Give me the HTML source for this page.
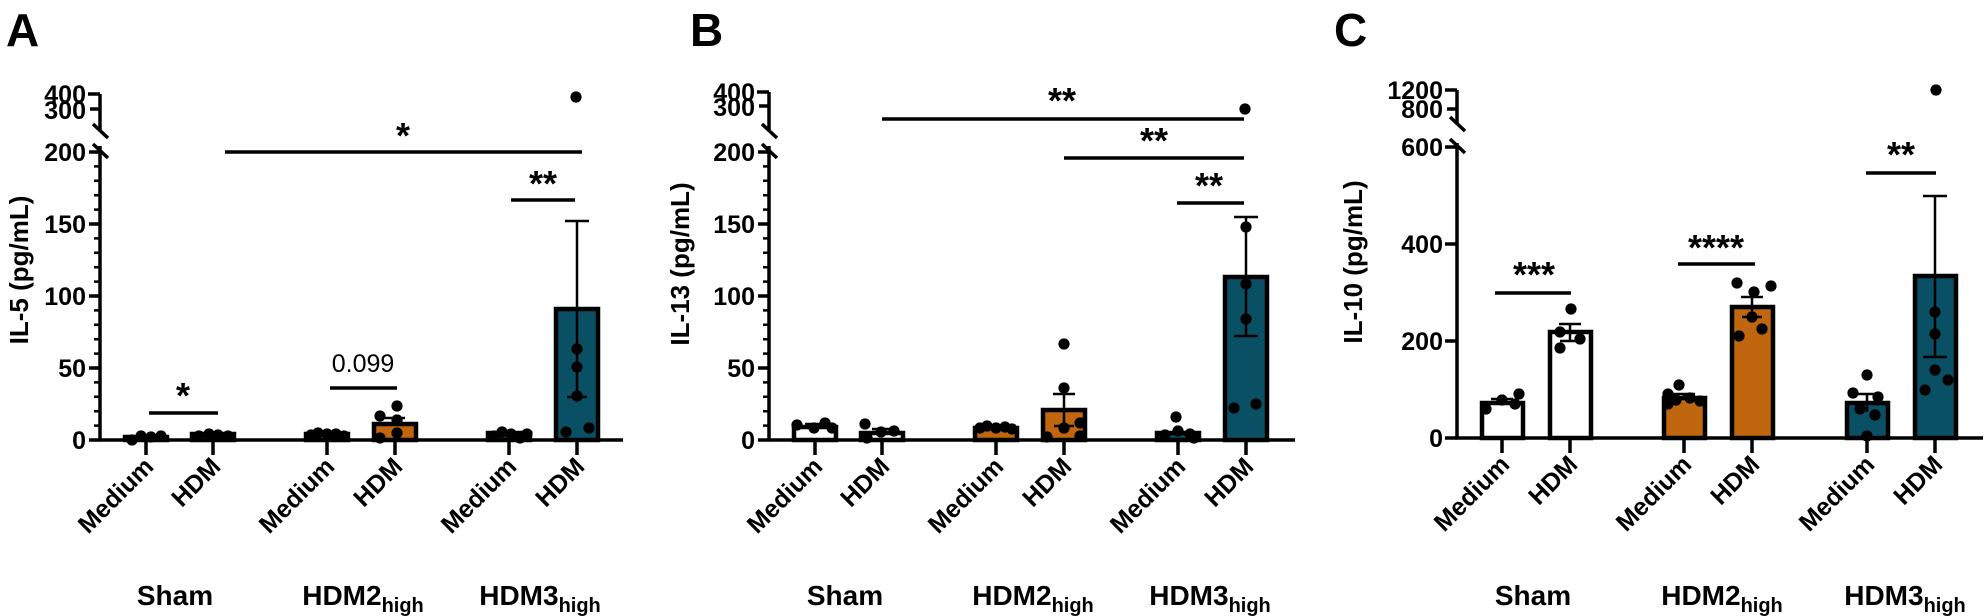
<!DOCTYPE html>
<html><head><meta charset="utf-8"><style>
html,body{margin:0;padding:0;background:#fff;}
svg{display:block;}
text{font-family:"Liberation Sans",Arial,sans-serif;font-weight:bold;fill:#000;}
</style></head><body>
<svg width="1985" height="616" viewBox="0 0 1985 616" xmlns="http://www.w3.org/2000/svg">

<!-- ============ PANEL A ============ -->
<text x="6" y="46" font-size="46">A</text>
<g stroke="#000" stroke-width="3.5" fill="none">
  <path d="M100,94 V131 M100,146 V440 H623"/>
  <path d="M88,94 H100 M90,109 H100"/>
  <path d="M93,124 L108,138 M93,144 L108,158"/>
  <path d="M89,152 H100 M89,224 H100 M89,296 H100 M89,368 H100 M89,440 H100"/>
  <path stroke-width="2.5" d="M94,166.4H100M94,180.8H100M94,195.2H100M94,209.6H100M94,238.4H100M94,252.8H100M94,267.2H100M94,281.6H100M94,310.4H100M94,324.8H100M94,339.2H100M94,353.6H100M94,382.4H100M94,396.8H100M94,411.2H100M94,425.6H100"/>
  <path d="M146,440V455 M213,440V455 M327,440V455 M395,440V455 M509,440V455 M577,440V455"/>
</g>
<g font-size="25" text-anchor="end">
  <text x="86" y="103">400</text><text x="86" y="119">300</text>
  <text x="86" y="161">200</text><text x="86" y="233">150</text><text x="86" y="305">100</text>
  <text x="86" y="377">50</text><text x="86" y="449">0</text>
</g>
<text transform="translate(28,270) rotate(-90)" font-size="26" text-anchor="middle">IL-5 (pg/mL)</text>
<g stroke="#000" stroke-width="4.5">
  <rect x="125" y="437" width="42" height="3" fill="#fff"/>
  <rect x="192" y="434" width="42" height="6" fill="#fff"/>
  <rect x="306" y="434" width="42" height="6" fill="#c0660f"/>
  <rect x="374" y="424" width="42" height="16" fill="#c0660f"/>
  <rect x="488" y="433" width="42" height="7" fill="#0a5065"/>
  <rect x="556" y="309" width="42" height="131" fill="#0a5065"/>
</g>
<g stroke="#000" stroke-width="2.5">
  <path d="M395,424V418 M385,418H405"/>
  <path d="M577,309V221 M565,221H589 M577,309V397 M567,397H587"/>
</g>
<g fill="#000">
  <circle cx="132" cy="440" r="5.6"/><circle cx="141" cy="436" r="5.6"/><circle cx="151" cy="437" r="5.6"/><circle cx="161" cy="436" r="5.6"/>
  <circle cx="199" cy="436" r="5.6"/><circle cx="209" cy="434" r="5.6"/><circle cx="218" cy="435" r="5.6"/><circle cx="228" cy="436" r="5.6"/>
  <circle cx="311" cy="435" r="5.6"/><circle cx="318" cy="433" r="5.6"/><circle cx="327" cy="434" r="5.6"/><circle cx="336" cy="434" r="5.6"/><circle cx="344" cy="436" r="5.6"/>
  <circle cx="380" cy="416" r="5.6"/><circle cx="397" cy="406" r="5.6"/><circle cx="397" cy="420" r="5.6"/><circle cx="397" cy="433" r="5.6"/><circle cx="380" cy="438" r="5.6"/>
  <circle cx="494" cy="436" r="5.6"/><circle cx="502" cy="432" r="5.6"/><circle cx="511" cy="434" r="5.6"/><circle cx="520" cy="438" r="5.6"/><circle cx="527" cy="434" r="5.6"/>
  <circle cx="577" cy="349" r="5.6"/><circle cx="577" cy="367" r="5.6"/><circle cx="577" cy="396" r="5.6"/><circle cx="589" cy="428" r="5.6"/><circle cx="566" cy="432" r="5.6"/>
  <circle cx="576" cy="97" r="5.6"/>
</g>
<g stroke="#000" stroke-width="3.5">
  <path d="M225,152H582 M511,200H575 M149,413H218 M330,388H397"/>
</g>
<g font-size="36" text-anchor="middle">
  <text x="403" y="148">*</text><text x="543" y="196">**</text><text x="183" y="408">*</text>
</g>
<text x="363" y="372" font-size="25" style="font-weight:normal" text-anchor="middle">0.099</text>
<g font-size="25" text-anchor="end">
  <text transform="translate(155,468) rotate(-45)">Medium</text>
  <text transform="translate(222,468) rotate(-45)">HDM</text>
  <text transform="translate(336,468) rotate(-45)">Medium</text>
  <text transform="translate(404,468) rotate(-45)">HDM</text>
  <text transform="translate(518,468) rotate(-45)">Medium</text>
  <text transform="translate(586,468) rotate(-45)">HDM</text>
</g>
<g font-size="28" text-anchor="middle">
  <text x="175" y="605">Sham</text>
  <text x="363" y="605">HDM2<tspan font-size="20" dy="7">high</tspan></text>
  <text x="540" y="605">HDM3<tspan font-size="20" dy="7">high</tspan></text>
</g>

<!-- ============ PANEL B ============ -->
<text x="690" y="46" font-size="46">B</text>
<g stroke="#000" stroke-width="3.5" fill="none">
  <path d="M769,92 V131 M769,146 V440 H1295"/>
  <path d="M757,92 H769 M759,106 H769"/>
  <path d="M762,124 L777,138 M762,144 L777,158"/>
  <path d="M758,152 H769 M758,224 H769 M758,296 H769 M758,368 H769 M758,440 H769"/>
  <path stroke-width="2.5" d="M763,166.4H769M763,180.8H769M763,195.2H769M763,209.6H769M763,238.4H769M763,252.8H769M763,267.2H769M763,281.6H769M763,310.4H769M763,324.8H769M763,339.2H769M763,353.6H769M763,382.4H769M763,396.8H769M763,411.2H769M763,425.6H769"/>
  <path d="M815,440V455 M882,440V455 M996,440V455 M1064,440V455 M1178,440V455 M1246,440V455"/>
</g>
<g font-size="25" text-anchor="end">
  <text x="755" y="101">400</text><text x="755" y="116">300</text>
  <text x="755" y="161">200</text><text x="755" y="233">150</text><text x="755" y="305">100</text>
  <text x="755" y="377">50</text><text x="755" y="449">0</text>
</g>
<text transform="translate(689,264) rotate(-90)" font-size="26" text-anchor="middle">IL-13 (pg/mL)</text>
<g stroke="#000" stroke-width="4.5">
  <rect x="794" y="427" width="42" height="13" fill="#fff"/>
  <rect x="861" y="433" width="42" height="7" fill="#fff"/>
  <rect x="975" y="428" width="42" height="12" fill="#c0660f"/>
  <rect x="1043" y="410" width="42" height="30" fill="#c0660f"/>
  <rect x="1157" y="433" width="42" height="7" fill="#0a5065"/>
  <rect x="1225" y="277" width="42" height="163" fill="#0a5065"/>
</g>
<g stroke="#000" stroke-width="2.5">
  <path d="M815,427V424 M805,424H825 M882,433V429 M872,429H892"/>
  <path d="M1064,410V394 M1053,394H1075 M1064,410V426 M1054,426H1074"/>
  <path d="M1246,277V217 M1234,217H1258 M1246,277V336 M1234,336H1258"/>
</g>
<g fill="#000">
  <circle cx="797" cy="425" r="5.6"/><circle cx="814" cy="428" r="5.6"/><circle cx="825" cy="423" r="5.6"/><circle cx="832" cy="428" r="5.6"/>
  <circle cx="865" cy="424" r="5.6"/><circle cx="867" cy="438" r="5.6"/><circle cx="881" cy="432" r="5.6"/><circle cx="894" cy="431" r="5.6"/>
  <circle cx="980" cy="428" r="5.6"/><circle cx="987" cy="426" r="5.6"/><circle cx="996" cy="428" r="5.6"/><circle cx="1005" cy="427" r="5.6"/><circle cx="1012" cy="429" r="5.6"/>
  <circle cx="1064" cy="344" r="5.6"/><circle cx="1064" cy="388" r="5.6"/><circle cx="1064" cy="428" r="5.6"/><circle cx="1080" cy="423" r="5.6"/><circle cx="1047" cy="437" r="5.6"/><circle cx="1080" cy="436" r="5.6"/>
  <circle cx="1176" cy="417" r="5.6"/><circle cx="1165" cy="435" r="5.6"/><circle cx="1178" cy="431" r="5.6"/><circle cx="1190" cy="434" r="5.6"/><circle cx="1194" cy="438" r="5.6"/>
  <circle cx="1246" cy="227" r="5.6"/><circle cx="1246" cy="284" r="5.6"/><circle cx="1246" cy="319" r="5.6"/><circle cx="1234" cy="408" r="5.6"/><circle cx="1256" cy="404" r="5.6"/>
  <circle cx="1245" cy="109" r="5.6"/>
</g>
<g stroke="#000" stroke-width="3.5">
  <path d="M882,119H1244 M1064,158H1244 M1177,203H1244"/>
</g>
<g font-size="36" text-anchor="middle">
  <text x="1062" y="113">**</text><text x="1154" y="153">**</text><text x="1209" y="198">**</text>
</g>
<g font-size="25" text-anchor="end">
  <text transform="translate(824,468) rotate(-45)">Medium</text>
  <text transform="translate(891,468) rotate(-45)">HDM</text>
  <text transform="translate(1005,468) rotate(-45)">Medium</text>
  <text transform="translate(1073,468) rotate(-45)">HDM</text>
  <text transform="translate(1187,468) rotate(-45)">Medium</text>
  <text transform="translate(1255,468) rotate(-45)">HDM</text>
</g>
<g font-size="28" text-anchor="middle">
  <text x="845" y="605">Sham</text>
  <text x="1033" y="605">HDM2<tspan font-size="20" dy="7">high</tspan></text>
  <text x="1210" y="605">HDM3<tspan font-size="20" dy="7">high</tspan></text>
</g>

<!-- ============ PANEL C ============ -->
<text x="1334" y="46" font-size="46">C</text>
<g stroke="#000" stroke-width="3.5" fill="none">
  <path d="M1457,90 V124 M1457,143 V438 H1983"/>
  <path d="M1445,90 H1457 M1447,109 H1457"/>
  <path d="M1450,117 L1465,131 M1450,139 L1465,153"/>
  <path d="M1445,147 H1457 M1445,244 H1457 M1445,341 H1457 M1445,438 H1457"/>
  <path d="M1502,438V453 M1570,438V453 M1684,438V453 M1752,438V453 M1867,438V453 M1935,438V453"/>
</g>
<g font-size="25" text-anchor="end">
  <text x="1443" y="99">1200</text><text x="1443" y="118">800</text>
  <text x="1443" y="156">600</text><text x="1443" y="253">400</text><text x="1443" y="350">200</text>
  <text x="1443" y="447">0</text>
</g>
<text transform="translate(1362,262) rotate(-90)" font-size="26" text-anchor="middle">IL-10 (pg/mL)</text>
<g stroke="#000" stroke-width="4.5">
  <rect x="1482" y="403" width="41" height="35" fill="#fff"/>
  <rect x="1550" y="332" width="41" height="106" fill="#fff"/>
  <rect x="1664" y="398" width="41" height="40" fill="#c0660f"/>
  <rect x="1732" y="307" width="41" height="131" fill="#c0660f"/>
  <rect x="1847" y="403" width="41" height="35" fill="#0a5065"/>
  <rect x="1915" y="276" width="41" height="162" fill="#0a5065"/>
</g>
<g stroke="#000" stroke-width="2.5">
  <path d="M1502,403V399 M1491,399H1513"/>
  <path d="M1570,332V324 M1559,324H1581 M1570,332V341 M1560,341H1580"/>
  <path d="M1684,398V394 M1673,394H1695"/>
  <path d="M1752,307V297 M1741,297H1763 M1752,307V317 M1742,317H1762"/>
  <path d="M1867,403V394 M1856,394H1878 M1867,403V412"/>
  <path d="M1935,276V196 M1923,196H1947 M1935,276V357 M1923,357H1947"/>
</g>
<g fill="#000">
  <circle cx="1486" cy="409" r="5.6"/><circle cx="1502" cy="400" r="5.6"/><circle cx="1515" cy="404" r="5.6"/><circle cx="1519" cy="394" r="5.6"/>
  <circle cx="1571" cy="309" r="5.6"/><circle cx="1560" cy="332" r="5.6"/><circle cx="1560" cy="348" r="5.6"/><circle cx="1580" cy="339" r="5.6"/>
  <circle cx="1679" cy="385" r="5.6"/><circle cx="1668" cy="394" r="5.6"/><circle cx="1676" cy="400" r="5.6"/><circle cx="1690" cy="398" r="5.6"/><circle cx="1700" cy="401" r="5.6"/><circle cx="1668" cy="404" r="5.6"/>
  <circle cx="1737" cy="283" r="5.6"/><circle cx="1771" cy="286" r="5.6"/><circle cx="1754" cy="292" r="5.6"/><circle cx="1752" cy="317" r="5.6"/><circle cx="1739" cy="336" r="5.6"/><circle cx="1762" cy="329" r="5.6"/>
  <circle cx="1867" cy="375" r="5.6"/><circle cx="1853" cy="393" r="5.6"/><circle cx="1878" cy="397" r="5.6"/><circle cx="1860" cy="409" r="5.6"/><circle cx="1875" cy="415" r="5.6"/><circle cx="1867" cy="436" r="5.6"/>
  <circle cx="1935" cy="312" r="5.6"/><circle cx="1935" cy="334" r="5.6"/><circle cx="1935" cy="370" r="5.6"/><circle cx="1948" cy="380" r="5.6"/><circle cx="1925" cy="390" r="5.6"/>
  <circle cx="1936" cy="90" r="5.6"/>
</g>
<g stroke="#000" stroke-width="3.5">
  <path d="M1495,293H1571 M1678,264H1755 M1866,173H1936"/>
</g>
<g font-size="36" text-anchor="middle">
  <text x="1534" y="287">***</text><text x="1716" y="260">****</text><text x="1901" y="167">**</text>
</g>
<g font-size="25" text-anchor="end">
  <text transform="translate(1511,466) rotate(-45)">Medium</text>
  <text transform="translate(1579,466) rotate(-45)">HDM</text>
  <text transform="translate(1693,466) rotate(-45)">Medium</text>
  <text transform="translate(1761,466) rotate(-45)">HDM</text>
  <text transform="translate(1876,466) rotate(-45)">Medium</text>
  <text transform="translate(1944,466) rotate(-45)">HDM</text>
</g>
<g font-size="28" text-anchor="middle">
  <text x="1533" y="605">Sham</text>
  <text x="1722" y="605">HDM2<tspan font-size="20" dy="7">high</tspan></text>
  <text x="1905" y="605">HDM3<tspan font-size="20" dy="7">high</tspan></text>
</g>
</svg>
</body></html>
